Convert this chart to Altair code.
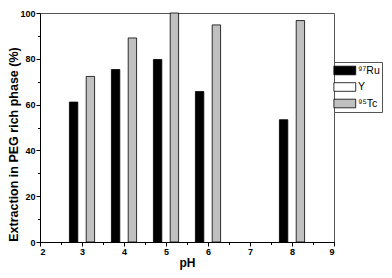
import altair as alt
import pandas as pd

ph = [3, 4, 5, 6, 8]
ru = [61.1, 75.3, 79.7, 65.7, 53.4]
yv = [0, 0, 0, 0, 0]
tc = [72.3, 89.1, 100.0, 94.8, 96.7]
series = ["\u2079\u2077Ru", "Y", "\u2079\u2075Tc"]
colors = ["#000000", "#ffffff", "#c0c0c0"]
offsets = [-0.2, 0.0, 0.2]

rows = []
for s, vals, off in zip(series, [ru, yv, tc], offsets):
    for p, v in zip(ph, vals):
        rows.append({"pH": p, "series": s, "value": v, "x0": p + off - 0.1, "x1": p + off + 0.1})
df = pd.DataFrame(rows)
df = df[df["value"] > 0]

xscale = alt.Scale(domain=[2, 9], nice=False, zero=False)
yscale = alt.Scale(domain=[0, 100], nice=False)

font = "Liberation Sans"

bars = alt.Chart(df).mark_bar(stroke="black", strokeWidth=0.8).encode(
    x=alt.X("x0:Q", scale=xscale,
            axis=alt.Axis(title="pH", values=[2, 3, 4, 5, 6, 7, 8, 9], format="d",
                          grid=False, tickSize=4, domainColor="black", tickColor="black",
                          labelFont=font, labelFontWeight="bold", labelFontSize=9,
                          labelColor="black", titleFont=font, titleFontWeight="bold",
                          titleFontSize=12, titleColor="black", titlePadding=1,
                          labelPadding=1)),
    x2="x1:Q",
    y=alt.Y("value:Q", scale=yscale,
            axis=alt.Axis(title="Extraction in PEG rich phase (%)", values=[0, 20, 40, 60, 80, 100],
                          grid=False, tickSize=4, domainColor="black", tickColor="black",
                          labelFont=font, labelFontWeight="bold", labelFontSize=9,
                          labelColor="black", titleFont=font, titleFontWeight="bold",
                          titleFontSize=12.5, titleColor="black", titleX=-20, titleY=131,
                          labelPadding=1)),
    y2=alt.datum(0),
    fill=alt.Fill("series:N", scale=alt.Scale(domain=series, range=colors),
                  sort=series,
                  legend=alt.Legend(title=None, orient="none", legendX=294, legendY=49,
                                    symbolType="M-1.5,-0.75H2.3V0.75H-1.5Z", symbolSize=132,
                                    symbolStrokeColor="black", symbolStrokeWidth=0.8,
                                    symbolOpacity=1, values=series,
                                    labelFont=font, labelFontSize=10.5, labelColor="black",
                                    strokeColor="#555", fillColor="white", padding=2,
                                    rowPadding=3.5, labelOffset=9)),
)

minor = alt.Chart(df).mark_point(opacity=0).encode(
    x=alt.X("x0:Q", scale=xscale,
            axis=alt.Axis(orient="bottom", values=[2.5, 3.5, 4.5, 5.5, 6.5, 7.5, 8.5],
                          labels=False, title=None, grid=False, domain=False,
                          tickSize=2.5, tickColor="black")),
    y=alt.Y("value:Q", scale=yscale,
            axis=alt.Axis(orient="left", values=[10, 30, 50, 70, 90],
                          labels=False, title=None, grid=False, domain=False,
                          tickSize=2.5, tickColor="black")),
)

chart = alt.layer(bars, minor).resolve_axis(x="independent", y="independent").properties(
    width=294, height=229,
    autosize=alt.AutoSizeParams(type="none"),
    padding={"left": 32, "top": 5, "right": 50, "bottom": 28},
).configure_view(stroke="#555", strokeWidth=1)

chart.save("out.html", embed_options={"renderer": "svg", "actions": False})
